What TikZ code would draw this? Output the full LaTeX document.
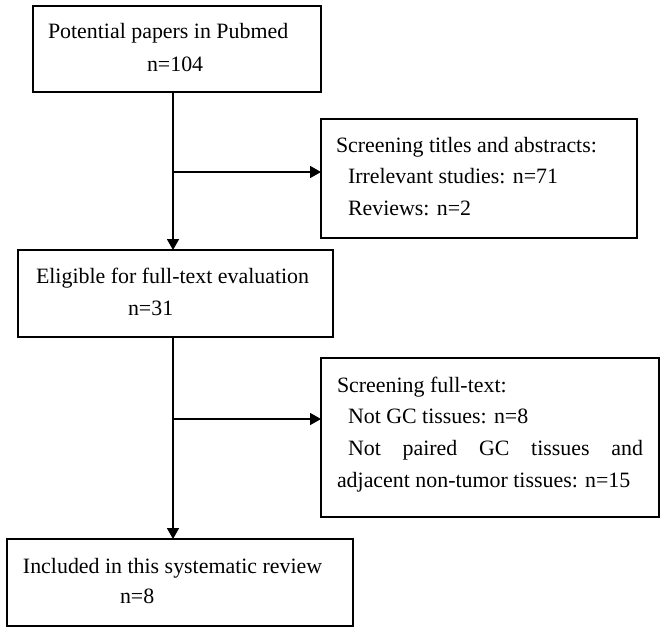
\documentclass[tikz,border=0pt]{standalone}
\usepackage{fontspec}
\setmainfont{Liberation Serif}
\usetikzlibrary{arrows.meta}
\tikzset{
  box/.style={draw=black, line width=1.5pt, inner sep=0pt, outer sep=0pt, rectangle},
  txt/.style={anchor=base west, inner sep=0pt, outer sep=0pt, font=\fontsize{21.9}{26}\selectfont},
  arr/.style={draw=black, line width=1.7pt, -{Triangle[length=11pt,width=12pt]}},
}
\begin{document}
\begin{tikzpicture}[x=1pt,y=1pt]
\useasboundingbox (0,0) rectangle (666,-632);
% boxes
\node[box, minimum width=288pt, minimum height=86pt] (b1) at (177,-49) {};
\node[box, minimum width=316pt, minimum height=119pt] (b2) at (479,-178.5) {};
\node[box, minimum width=315pt, minimum height=87pt] (b3) at (175.5,-293.5) {};
\node[box, minimum width=338pt, minimum height=159pt] (b4) at (490,-437.5) {};
\node[box, minimum width=346pt, minimum height=87pt] (b5) at (180,-582.5) {};
% texts
\node[txt] (t1a) at (48,-38) {Potential papers in Pubmed};
\node[txt] (t1b) at (147,-71) {n=104};
\node[txt] (t2a) at (336,-152) {Screening titles and abstracts:};
\node[txt] (t2b) at (348,-183) {Irrelevant studies: n=71};
\node[txt] (t2c) at (348,-215) {Reviews: n=2};
\node[txt] (t3a) at (36,-283) {Eligible for full-text evaluation};
\node[txt] (t3b) at (128,-315) {n=31};
\node[txt] (t4a) at (337,-392) {Screening full-text:};
\node[txt] (t4b) at (348,-423) {Not GC tissues: n=8};
\node[txt] (t4c) at (348,-455) {\makebox[295pt][s]{Not\hfill paired\hfill GC\hfill tissues\hfill and}};
\node[txt] (t4d) at (337,-487) {adjacent non-tumor tissues: n=15};
\node[txt] (t5a) at (23,-573) {Included in this systematic review};
\node[txt] (t5b) at (120,-603) {n=8};
% connectors
\coordinate (vx) at (173,0);
\coordinate (j1) at (173,-172);
\coordinate (j2) at (173,-419);
\draw[arr] (b1.south -| vx) -- (b3.north -| vx);
\draw[arr] (j1) -- (j1 -| b2.west);
\draw[arr] (b3.south -| vx) -- (b5.north -| vx);
\draw[arr] (j2) -- (j2 -| b4.west);
\end{tikzpicture}
\end{document}
